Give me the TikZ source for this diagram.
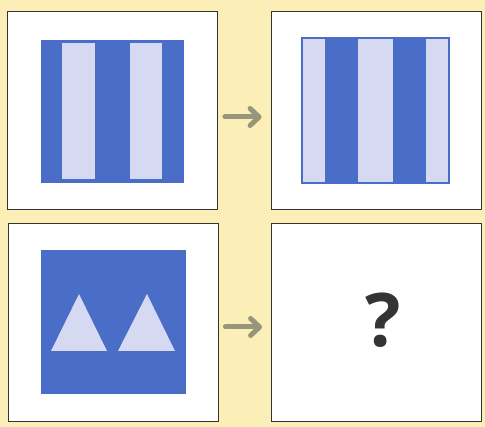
\documentclass[tikz,border=0pt]{standalone}
\usepackage{fontspec}
\newfontfamily\qfont{Open Sans}
\usetikzlibrary{arrows.meta}
\definecolor{paper}{RGB}{251,239,183}
\definecolor{tileblue}{RGB}{74,109,199}
\definecolor{stripe}{RGB}{214,217,242}
\definecolor{arrowgray}{RGB}{152,150,122}
\definecolor{qgray}{RGB}{52,52,52}

\begin{document}
\begin{tikzpicture}[x=1pt,y=-1pt,
  card/.style={draw=black!80, fill=white, line width=0.8pt, minimum width=210pt, minimum height=198pt, inner sep=0pt},
  step arrow/.style={arrowgray, line width=5pt, line cap=round, shorten <=7pt, shorten >=9pt,
    -{Straight Barb[length=9pt, width=17pt, line join=round, line cap=round]}}]
\useasboundingbox (0,0) rectangle (485,427);
\fill[paper] (0,0) rectangle (485,427);
% four cards
\node[card] (topleft) at (112.5,110.5) {};
\node[card] (topright) at (376,110.5) {};
\node[card] (botleft) at (113,322.5) {};
\node[card] (botright) at (376.5,322.5) {};
% top left: two stripes
\fill[tileblue] (41,40) rectangle (184,183);
\fill[stripe] (62,43) rectangle (95,179);
\fill[stripe] (130,43) rectangle (162,179);
% top right: three stripes
\filldraw[fill=stripe, draw=tileblue, line width=1.5pt] (302,38) rectangle (449,183);
\fill[tileblue] (325,38) rectangle (358,183);
\fill[tileblue] (393,38) rectangle (426,183);
% bottom left: two triangles
\fill[tileblue] (41,250) rectangle (186,394);
\fill[stripe] (79,294) -- (51,351) -- (107,351) -- cycle;
\fill[stripe] (147,294) -- (118,351) -- (175,351) -- cycle;
% bottom right
\node[qgray, font=\qfont\bfseries\fontsize{74}{74}\selectfont] (qmark) at (383,320) {?};
\draw[step arrow] ([yshift=-6.5pt]topleft.east) -- ([yshift=-6.5pt]topright.west);
\draw[step arrow] ([yshift=-4.5pt]botleft.east) -- ([yshift=-4.5pt]botright.west);
\end{tikzpicture}
\end{document}
